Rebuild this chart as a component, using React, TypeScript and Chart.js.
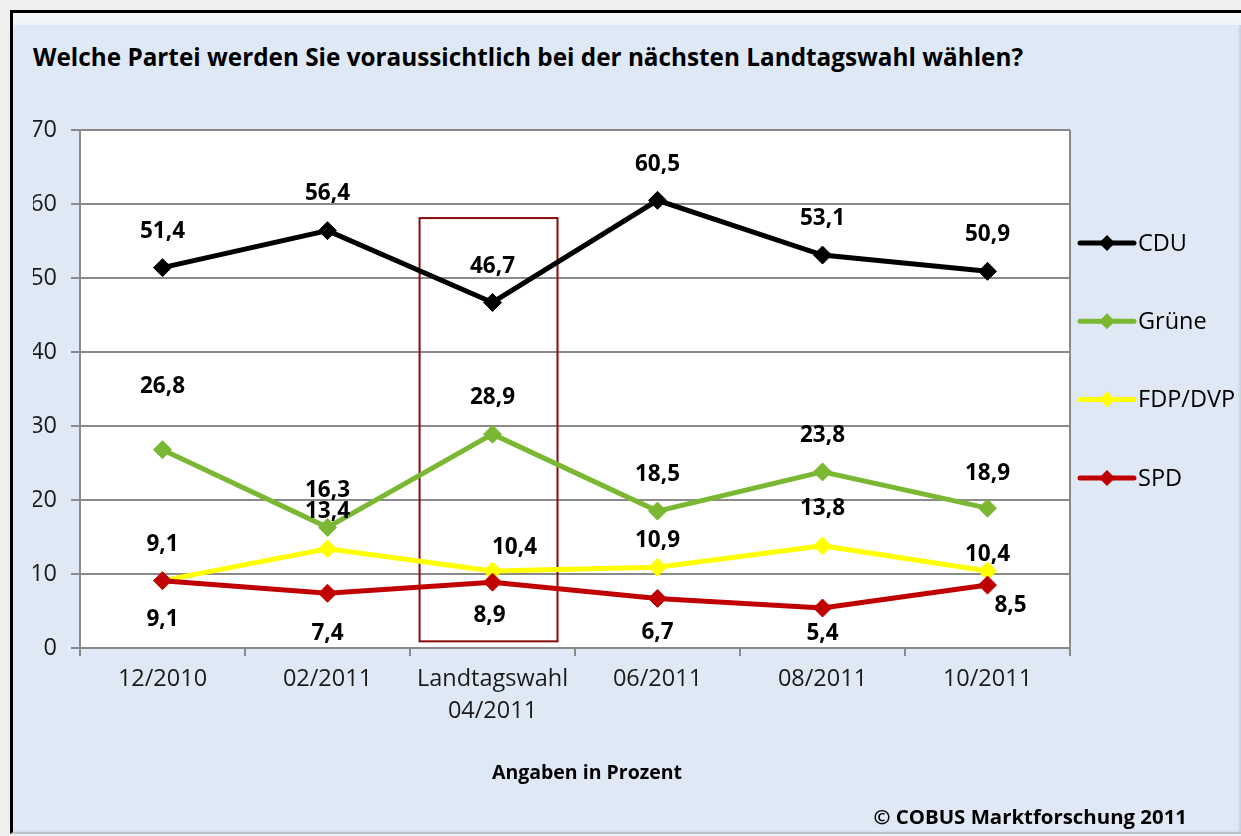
import React, { useEffect, useRef } from "react";
import { Chart, registerables } from "chart.js";

Chart.register(...registerables);

// ---- data ----
const categories: string[][] = [["12/2010"], ["02/2011"], ["Landtagswahl", "04/2011"], ["06/2011"], ["08/2011"], ["10/2011"]];
const cduValues = [51.4, 56.4, 46.7, 60.5, 53.1, 50.9];
const grueneValues = [26.8, 16.3, 28.9, 18.5, 23.8, 18.9];
const fdpValues = [9.1, 13.4, 10.4, 10.9, 13.8, 10.4];
const spdValues = [9.1, 7.4, 8.9, 6.7, 5.4, 8.5];
const seriesNames = ["CDU", "Grüne", "FDP/DVP", "SPD"];
const yMin = 0;
const yMax = 70;
const yStep = 10;
const highlightCategory = 2;
const highlightTopValue = 58.1;
const highlightBottomValue = 0.9;

const titleText = "Welche Partei werden Sie voraussichtlich bei der nächsten Landtagswahl wählen?";
const axisCaption = "Angaben in Prozent";
const copyrightText = "© COBUS Marktforschung 2011";

// ---- styles ----
const seriesColors = ["#000000", "#7ab833", "#ffff00", "#c00000"];
const seriesOrder = [1, 2, 3, 0];
// label offsets in px (dx, dy) from each point
const labelOffsets: number[][][] = [
  [[0, -36], [0, -37], [0, -36], [0, -36], [0, -36], [0, -37]],
  [[0, -63], [0, -37], [0, -37], [0, -37], [0, -36], [0, -35]],
  [[0, -36], [0, -37], [22, -23], [0, -27], [0, -37], [0, -16]],
  [[0, 39], [0, 40], [-3, 33], [0, 34], [0, 26], [23, 20]],
];
const FONT = "'Open Sans', 'DejaVu Sans', sans-serif";

const fmt = (v: number) => v.toFixed(1).replace(".", ",");

const plotPlugin = {
  id: "plotDecor",
  beforeDraw(chart: any) {
    const { ctx, chartArea } = chart;
    ctx.save();
    ctx.fillStyle = "#ffffff";
    ctx.fillRect(chartArea.left, chartArea.top, chartArea.right - chartArea.left, chartArea.bottom - chartArea.top);
    ctx.restore();
  },
  beforeDatasetsDraw(chart: any) {
    const { ctx, chartArea, scales } = chart;
    const x = scales.x;
    const y = scales.y;
    ctx.save();
    ctx.strokeStyle = "#8a8a8a";
    ctx.lineWidth = 2;
    ctx.beginPath();
    ctx.moveTo(chartArea.right, chartArea.top);
    ctx.lineTo(chartArea.right, chartArea.bottom);
    ctx.stroke();
    const cw = (chartArea.right - chartArea.left) / categories.length;
    const cx = x.getPixelForValue(highlightCategory);
    const left = cx - cw * 0.442;
    const right = cx + cw * 0.394;
    const top = y.getPixelForValue(highlightTopValue);
    const bottom = y.getPixelForValue(highlightBottomValue);
    ctx.strokeStyle = "#8b0a0a";
    ctx.lineWidth = 2;
    ctx.strokeRect(left, top, right - left, bottom - top);
    ctx.restore();
  },
  afterDatasetsDraw(chart: any) {
    const { ctx } = chart;
    ctx.save();
    ctx.font = `bold 22.5px ${FONT}`;
    ctx.fillStyle = "#000000";
    ctx.textAlign = "center";
    ctx.textBaseline = "middle";
    chart.data.datasets.forEach((ds: any, di: number) => {
      const meta = chart.getDatasetMeta(di);
      meta.data.forEach((pt: any, i: number) => {
        const off = labelOffsets[di][i];
        ctx.fillText(fmt(ds.data[i]), pt.x + off[0], pt.y + off[1]);
      });
    });
    ctx.restore();
  },
  afterDraw(chart: any) {
    const { ctx } = chart;
    const lx = 1080;
    const ly0 = 243;
    const gap = 78.3;
    ctx.save();
    chart.data.datasets.forEach((ds: any, i: number) => {
      const yy = ly0 + i * gap;
      ctx.strokeStyle = ds.borderColor;
      ctx.lineWidth = 5;
      ctx.lineCap = "round";
      ctx.beginPath();
      ctx.moveTo(lx, yy);
      ctx.lineTo(lx + 54, yy);
      ctx.stroke();
      ctx.fillStyle = ds.borderColor;
      const r = 8;
      const cx = lx + 27;
      ctx.beginPath();
      ctx.moveTo(cx - r, yy);
      ctx.lineTo(cx, yy - r);
      ctx.lineTo(cx + r, yy);
      ctx.lineTo(cx, yy + r);
      ctx.closePath();
      ctx.fill();
      ctx.fillStyle = "#000000";
      ctx.font = `23.5px ${FONT}`;
      ctx.textAlign = "left";
      ctx.textBaseline = "middle";
      ctx.fillText(ds.label, lx + 58, yy + 1);
    });
    ctx.restore();
  },
};

export default function App() {
  const canvasRef = useRef<HTMLCanvasElement | null>(null);

  useEffect(() => {
    document.body.style.margin = "0";
    const canvas = canvasRef.current;
    if (!canvas) return;
    const seriesValues = [cduValues, grueneValues, fdpValues, spdValues];
    const chart = new Chart(canvas, {
      type: "line",
      data: {
        labels: categories,
        datasets: seriesValues.map((vals, i) => ({
          label: seriesNames[i],
          data: vals,
          borderColor: seriesColors[i],
          backgroundColor: seriesColors[i],
          pointBackgroundColor: seriesColors[i],
          pointBorderColor: seriesColors[i],
          borderWidth: 5,
          tension: 0,
          pointStyle: "rectRot",
          pointRadius: 9,
          pointBorderWidth: 1,
          order: seriesOrder[i],
          fill: false,
        })),
      },
      options: {
        responsive: false,
        animation: false,
        devicePixelRatio: 1,
        layout: { padding: { left: 33, top: 130, right: 171, bottom: 88 } },
        plugins: {
          legend: { display: false },
          tooltip: { enabled: false },
          title: { display: false },
        },
        scales: {
          x: {
            type: "category",
            offset: true,
            afterFit: (scale: any) => {
              scale.height = 100;
            },
            grid: {
              display: true,
              offset: true,
              drawOnChartArea: false,
              drawTicks: true,
              tickLength: 8,
              color: "#8a8a8a",
              lineWidth: 2,
            },
            border: { display: true, color: "#8a8a8a", width: 2 },
            ticks: {
              color: "#1a1a1a",
              font: { family: FONT, size: 23.5, lineHeight: 1.38 },
              padding: 7,
              maxRotation: 0,
              autoSkip: false,
            },
          },
          y: {
            min: yMin,
            max: yMax,
            afterFit: (scale: any) => {
              scale.width = 47;
            },
            grid: {
              color: "#8a8a8a",
              lineWidth: 2,
              tickLength: 9,
              drawTicks: true,
            },
            border: { display: true, color: "#8a8a8a", width: 2 },
            ticks: {
              stepSize: yStep,
              color: "#1a1a1a",
              font: { family: FONT, size: 23.5 },
              padding: 14,
            },
          },
        },
      },
      plugins: [plotPlugin],
    } as any);
    return () => chart.destroy();
  }, []);

  return (
    <div style={{ position: "relative", width: 1241, height: 836, background: "#efefef", overflow: "hidden", fontFamily: FONT }}>
      <div
        style={{
          position: "absolute",
          left: 10,
          top: 10,
          width: 1229,
          height: 819,
          background: "#dfe9f6",
          borderLeft: "3px solid #000",
          borderTop: "3px solid #000",
          borderBottom: "2px solid #b8c0ca",
          boxShadow: "inset -3px 0 3px rgba(150,160,175,0.35)",
        }}
      >
        <div style={{ position: "absolute", left: 0, top: 0, right: 0, height: 12, background: "linear-gradient(#f6f9fc, #eef3f9)" }} />
      </div>
      <div style={{ position: "absolute", left: 33, top: 41, fontSize: 24.3, lineHeight: "32px", fontWeight: 700, color: "#000", whiteSpace: "nowrap" }}>
        {titleText}
      </div>
      <canvas ref={canvasRef} width={1241} height={836} style={{ position: "absolute", left: 0, top: 0, width: 1241, height: 836 }} />
      <div style={{ position: "absolute", left: 587, top: 758, transform: "translateX(-50%)", fontSize: 19.5, lineHeight: "28px", fontWeight: 700, color: "#000", whiteSpace: "nowrap" }}>
        {axisCaption}
      </div>
      <div style={{ position: "absolute", right: 1241 - 1187, top: 802, fontSize: 20.4, lineHeight: "28px", fontWeight: 700, color: "#000", whiteSpace: "nowrap" }}>
        {copyrightText}
      </div>
    </div>
  );
}
